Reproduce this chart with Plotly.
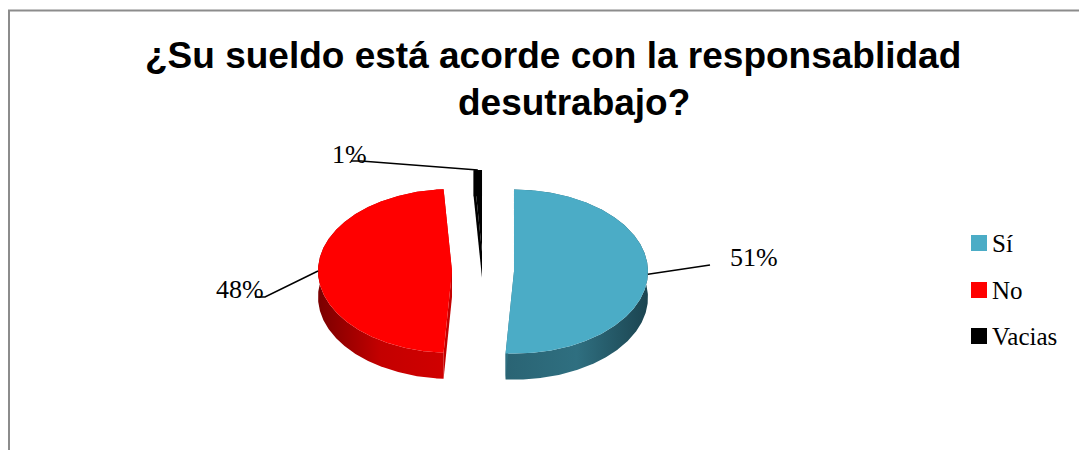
import numpy as np
import plotly.graph_objects as go

# Survey answers
labels = ["Sí", "No", "Vacias"]
values = [51, 48, 1]
pct_text = ["51%", "48%", "1%"]
title_lines = ["¿Su sueldo está acorde con la responsablidad", "desutrabajo?"]

# Colours: top face, side wall (dark -> light -> dark)
top_colors = ["#4bacc6", "#ff0000", "#000000"]
side_scales = [
    [[0, "#2a6474"], [0.5, "#2f6f80"], [1, "#1b4450"]],
    [[0, "#7a0000"], [0.5, "#c40000"], [1, "#d00000"]],
    [[0, "#000000"], [1, "#000000"]],
]

W, H = 1079, 450
CX, CY = 483.0, 271.0      # pie centre before explosion (px)
RX, RY = 134.0, 82.0       # ellipse radii of the tilted pie
DEPTH = 26.0               # thickness of the 3-D pie
EXPLODE = 31.0             # explosion distance (horizontal px)

# Label anchor points: (text x, text y, elbow x, elbow y, xanchor)
label_pos = [
    (728, 257, 710, 265, "left"),
    (266, 289, 265, 297, "right"),
    (369, 154, 361, 161, "right"),
]


def ell(cx, cy, deg):
    t = np.radians(deg)
    return cx + RX * np.sin(t), cy - RY * np.cos(t)


fig = go.Figure()

total = sum(values)
start = 0.0
slices = []
for i, v in enumerate(values):
    end = start + 360.0 * v / total
    mid = (start + end) / 2
    m = np.radians(mid)
    cx = CX + EXPLODE * np.sin(m)
    cy = CY - EXPLODE * np.cos(m) * RY / RX
    slices.append((start, end, mid, cx, cy))
    start = end

for i, (a, b, mid, cx, cy) in enumerate(slices):
    ang = np.linspace(a, b, max(8, int((b - a) * 2)))
    ax_, ay_ = ell(cx, cy, ang)

    # outer wall
    wx = np.concatenate([ax_, ax_[::-1], ax_[:1]])
    wy = np.concatenate([ay_, ay_[::-1] + DEPTH, ay_[:1]])
    fig.add_trace(go.Scatter(
        x=wx, y=wy, mode="lines", fill="toself",
        line=dict(width=0, color=side_scales[i][1][1]),
        fillgradient=dict(type="horizontal", colorscale=side_scales[i]),
        hoverinfo="skip", showlegend=False))

    # radial cut faces
    for d in (a, b):
        rx, ry = ell(cx, cy, d)
        fig.add_trace(go.Scatter(
            x=[cx, rx, rx, cx, cx], y=[cy, ry, ry + DEPTH, cy + DEPTH, cy],
            mode="lines", fill="toself",
            line=dict(width=0, color=side_scales[i][1][1]),
            fillcolor=side_scales[i][1][1],
            hoverinfo="skip", showlegend=False))

    # top face
    tx = np.concatenate([[cx], ax_, [cx]])
    ty = np.concatenate([[cy], ay_, [cy]])
    fig.add_trace(go.Scatter(
        x=tx, y=ty, mode="lines", fill="toself",
        line=dict(width=0, color=top_colors[i]), fillcolor=top_colors[i],
        name=labels[i], hoverinfo="skip", showlegend=False))

# Leader lines and percentage labels
for i, (a, b, mid, cx, cy) in enumerate(slices):
    lx, ly, ex, ey, anchor = label_pos[i]
    px_, py_ = ell(cx, cy, mid)
    xs = [px_, ex]
    ys = [py_, ey]
    if anchor == "right":
        xs.append(ex - 10)
        ys.append(ey)
    fig.add_trace(go.Scatter(
        x=xs, y=ys, mode="lines", line=dict(color="black", width=1.5),
        hoverinfo="skip", showlegend=False))
    fig.add_annotation(
        x=lx, y=ly, text=pct_text[i], showarrow=False,
        xanchor=anchor, yanchor="middle",
        font=dict(family="Liberation Serif", size=26, color="black"))

# Legend
leg_y = [243, 290, 336]
fig.add_trace(go.Scatter(
    x=[979] * len(labels), y=leg_y, mode="markers",
    marker=dict(symbol="square", size=16, color=top_colors, line=dict(width=0)),
    hoverinfo="skip", showlegend=False))
for i, lab in enumerate(labels):
    fig.add_annotation(
        x=990, y=leg_y[i], text=lab, showarrow=False,
        xanchor="left", yanchor="middle",
        font=dict(family="Liberation Serif", size=25, color="black"))

# Title, two lines
for xx, yy, line in zip([553, 574], [55, 102], title_lines):
    fig.add_annotation(
        x=xx, y=yy, text=f"<b>{line}</b>",
        showarrow=False, xanchor="center", yanchor="middle",
        font=dict(family="Liberation Sans", size=37, color="black"))

# Chart-area frame
fig.add_shape(type="rect", x0=9, y0=10.5, x1=W + 20, y1=H + 20,
              line=dict(color="#8c8c8c", width=2), layer="below")

fig.update_layout(
    width=W, height=H,
    margin=dict(l=0, r=0, t=0, b=0),
    paper_bgcolor="white", plot_bgcolor="white",
    xaxis=dict(range=[0, W], visible=False, fixedrange=True),
    yaxis=dict(range=[H, 0], visible=False, fixedrange=True),
    showlegend=False,
)

fig.write_html("out.html")
